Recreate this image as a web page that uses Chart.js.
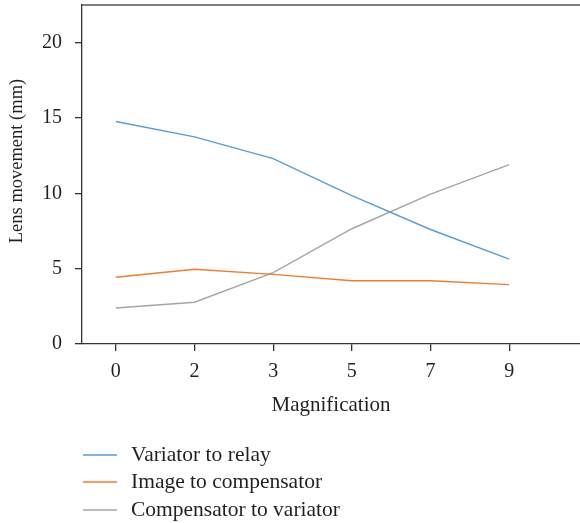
<!DOCTYPE html>
<html>
<head>
<meta charset="utf-8">
<script src="https://cdn.jsdelivr.net/npm/chart.js@4/dist/chart.umd.min.js"></script>
<style>
html,body{margin:0;padding:0;background:#fff;}
#wrap{width:580px;height:523px;position:relative;}
</style>
</head>
<body>
<div id="wrap"><canvas id="c" width="580" height="523"></canvas></div>
<script>
const categories = ['0', '2', '3', '5', '7', '9'];
const variatorToRelay = [14.77, 13.75, 12.3, 9.85, 7.6, 5.63];
const imageToCompensator = [4.43, 4.96, 4.62, 4.2, 4.2, 3.94];
const compensatorToVariator = [2.39, 2.77, 4.74, 7.65, 9.95, 11.9];
const seriesNames = ['Variator to relay', 'Image to compensator', 'Compensator to variator'];
const yTicks = [0, 5, 10, 15, 20];
const yTitle = 'Lens movement (mm)';

const colors = ['#5B9BD5', '#ED7D31', '#A5A5A5'];
const FONT = "'Liberation Serif', 'Times New Roman', serif";
const TXT = '#231F20';

function pts(arr){ return arr.map((v,i)=>({x:i, y:v})); }

const legendPlugin = {
  id: 'customLegend',
  afterDraw(chart){
    const ctx = chart.ctx;
    ctx.save();
    ctx.strokeStyle = '#555';
    ctx.lineWidth = 1.3;
    ctx.beginPath();
    ctx.moveTo(chart.chartArea.left, chart.chartArea.top);
    ctx.lineTo(chart.width, chart.chartArea.top);
    ctx.stroke();
    // y title
    ctx.save();
    ctx.translate(17, 161);
    ctx.rotate(-Math.PI/2);
    ctx.font = '18.5px ' + FONT;
    ctx.fillStyle = TXT;
    ctx.textAlign = 'center';
    ctx.textBaseline = 'middle';
    ctx.fillText(yTitle, 0, 0);
    ctx.restore();
    // legend
    const ys = [455, 482, 510];
    ctx.font = '21.5px ' + FONT;
    ctx.textBaseline = 'middle';
    ctx.fillStyle = TXT;
    chart.data.datasets.forEach((ds, i) => {
      ctx.strokeStyle = ds.borderColor;
      ctx.lineWidth = 1.3;
      ctx.beginPath();
      ctx.moveTo(83, ys[i]);
      ctx.lineTo(117, ys[i]);
      ctx.stroke();
      ctx.fillText(ds.label, 131, ys[i]);
    });
    ctx.restore();
  }
};

new Chart(document.getElementById('c'), {
  type: 'line',
  data: {
    datasets: [
      {label: seriesNames[0], data: pts(variatorToRelay), borderColor: colors[0]},
      {label: seriesNames[1], data: pts(imageToCompensator), borderColor: colors[1]},
      {label: seriesNames[2], data: pts(compensatorToVariator), borderColor: colors[2]}
    ].map(d => Object.assign(d, {borderWidth: 1.4, pointRadius: 0, tension: 0, fill: false}))
  },
  options: {
    responsive: false,
    animation: false,
    layout: {padding: {left: 0, right: 0, top: 5, bottom: 99}},
    plugins: {legend: {display: false}, tooltip: {enabled: false}},
    scales: {
      x: {
        type: 'linear',
        min: -0.43,
        max: 5.9,
        afterBuildTicks(scale){ scale.ticks = categories.map((c,i)=>({value:i})); },
        afterFit(scale){ scale.height = 80; scale.paddingLeft = 0; scale.paddingRight = 0; },
        ticks: {
          callback: (v) => categories[v],
          font: {family: FONT, size: 20},
          color: TXT,
          padding: 9,
          maxRotation: 0,
          autoSkip: false
        },
        grid: {drawOnChartArea: false, drawTicks: true, tickLength: 7, color: '#333', lineWidth: 1.3},
        border: {display: true, color: '#333', width: 1.3},
        title: {display: true, text: 'Magnification', font: {family: FONT, size: 21}, color: TXT, padding: {top: 0, bottom: 6}}
      },
      y: {
        min: 0,
        max: 22.5,
        afterBuildTicks(scale){ scale.ticks = yTicks.map(v=>({value:v})); },
        afterFit(scale){ scale.width = 82; scale.paddingTop = 0; scale.paddingBottom = 0; },
        ticks: {
          font: {family: FONT, size: 20},
          color: TXT,
          padding: 13
        },
        grid: {drawOnChartArea: false, drawTicks: true, tickLength: 7, color: '#333', lineWidth: 1.3},
        border: {display: true, color: '#333', width: 1.3},
        title: {display: false}
      }
    }
  },
  plugins: [legendPlugin]
});
</script>
</body>
</html>
